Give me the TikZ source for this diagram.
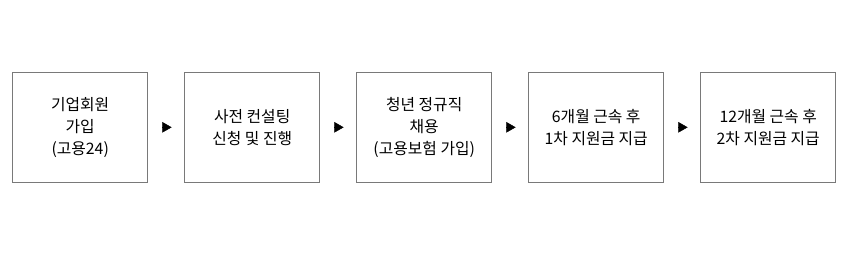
\documentclass[tikz,border=0pt]{standalone}
\usepackage{fontspec}
\setmainfont{Noto Sans CJK KR}
\usetikzlibrary{arrows.meta,positioning}

\begin{document}
\begin{tikzpicture}[x=1pt, y=-1pt, >={Triangle[length=9.4pt,width=10.6pt]},
  stepbox/.style={draw=gray!95!black, line width=0.9pt, minimum width=135pt,
    minimum height=110pt, align=center, font=\fontsize{15.8}{22}\selectfont, inner sep=0pt},
  flow/.style={->, shorten <=14.6pt, shorten >=12.6pt}]

  \useasboundingbox (0,0) rectangle (853,257);

  % Define boxes for each step
  \node[stepbox] (join) at (80.2,127.3) {기업회원\\가입\\(고용24)};
  \node[stepbox] (consult) at (252.2,127.3) {사전 컨설팅\\신청 및 진행};
  \node[stepbox] (hire) at (424.2,127.3) {청년 정규직\\채용\\(고용보험 가입)};
  \node[stepbox] (first) at (596.2,127.3) {6개월 근속 후\\1차 지원금 지급};
  \node[stepbox] (second) at (768.2,127.3) {12개월 근속 후\\2차 지원금 지급};

  % Draw arrows between boxes
  \draw[flow] (join) -- (consult);
  \draw[flow] (consult) -- (hire);
  \draw[flow] (hire) -- (first);
  \draw[flow] (first) -- (second);
\end{tikzpicture}
\end{document}
